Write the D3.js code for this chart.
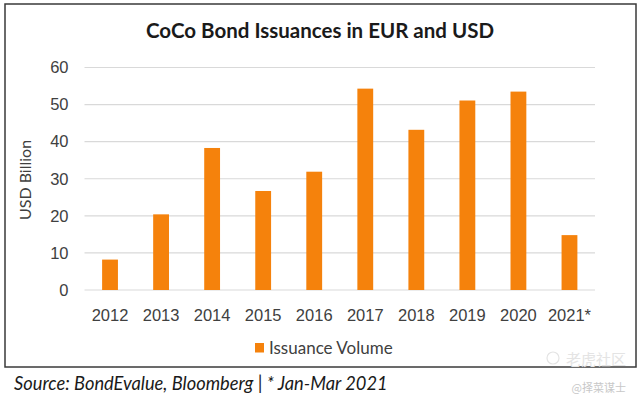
<!DOCTYPE html>
<html>
<head>
<meta charset="utf-8">
<script src="https://cdn.jsdelivr.net/npm/d3@7"></script>
<style>
  body { margin: 0; background: #fff; }
  svg { display: block; font-family: Lato, "Open Sans", sans-serif; }
  .axis text { fill: #404040; font-size: 16.5px; }
</style>
</head>
<body>
<script>
// Data
const YEARS  = ["2012", "2013", "2014", "2015", "2016", "2017", "2018", "2019", "2020", "2021*"];
const VOLUME = [8.2, 20.4, 38.3, 26.7, 31.9, 54.3, 43.2, 51.1, 53.5, 14.8];
const Y_TICKS = [0, 10, 20, 30, 40, 50, 60];

const W = 640, H = 399;
const ORANGE = '#F5820C';
const GRID = '#D9D9D9';
const TEXT = '#404040';

const svg = d3.select("body").append("svg")
  .attr("width", W)
  .attr("height", H);

// Chart frame
svg.append("rect")
  .attr("x", 5).attr("y", 4)
  .attr("width", 631).attr("height", 363)
  .attr("fill", "#fff")
  .attr("stroke", "#3a3a3a")
  .attr("stroke-width", 1.5);

// Scales
const x = d3.scaleBand()
  .domain(YEARS)
  .range([84.5, 595])
  .paddingInner(0.69)
  .paddingOuter(0.345);
const y = d3.scaleLinear()
  .domain([0, 60])
  .range([290, 67.5]);

// Gridlines
svg.append("g")
  .selectAll("line")
  .data(Y_TICKS)
  .join("line")
    .attr("x1", 84.5)
    .attr("x2", 595)
    .attr("y1", d => y(d))
    .attr("y2", d => y(d))
    .attr("stroke", GRID)
    .attr("stroke-width", 1.2);

// Bars
svg.append("g")
  .selectAll("rect")
  .data(VOLUME)
  .join("rect")
    .attr("x", (d, i) => x(YEARS[i]))
    .attr("y", d => y(d))
    .attr("width", x.bandwidth())
    .attr("height", d => y(0) - y(d))
    .attr("fill", ORANGE);

// Axes
svg.append("g")
  .attr("class", "axis")
  .attr("transform", "translate(84.5,0)")
  .call(d3.axisLeft(y).tickValues(Y_TICKS).tickSize(0).tickPadding(16))
  .call(g => g.select(".domain").remove());

svg.append("g")
  .attr("class", "axis")
  .attr("transform", "translate(0,290)")
  .call(d3.axisBottom(x).tickSize(0).tickPadding(19))
  .call(g => g.select(".domain").remove());

// Title
svg.append("text")
  .attr("x", 320)
  .attr("y", 38)
  .attr("text-anchor", "middle")
  .attr("font-size", 20.5)
  .attr("font-weight", "bold")
  .attr("fill", "#1a1a1a")
  .text("CoCo Bond Issuances in EUR and USD");

// Y axis title
svg.append("text")
  .attr("transform", "translate(31,180) rotate(-90)")
  .attr("text-anchor", "middle")
  .attr("font-size", 16)
  .attr("fill", TEXT)
  .text("USD Billion");

// Legend
const legend = svg.append("g").attr("transform", "translate(255,343)");
legend.append("rect")
  .attr("width", 9).attr("height", 9.5)
  .attr("fill", ORANGE);
legend.append("text")
  .attr("x", 14)
  .attr("y", 10.5)
  .attr("font-size", 17)
  .attr("fill", TEXT)
  .text("Issuance Volume");

// Source note
svg.append("text")
  .attr("x", 14)
  .attr("y", 390)
  .attr("font-size", 18.3)
  .attr("font-style", "italic")
  .attr("fill", "#1a1a1a")
  .text("Source: BondEvalue, Bloomberg | * Jan-Mar 2021");

// Watermark
svg.append("text")
  .attr("x", 626)
  .attr("y", 365)
  .attr("text-anchor", "end")
  .attr("font-family", "Noto Sans CJK SC")
  .attr("font-size", 15)
  .attr("fill", "#e4e4e4")
  .text("老虎社区");
svg.append("circle")
  .attr("cx", 553).attr("cy", 358).attr("r", 6)
  .attr("fill", "none")
  .attr("stroke", "#e4e4e4")
  .attr("stroke-width", 1.2);
svg.append("text")
  .attr("x", 626)
  .attr("y", 392)
  .attr("text-anchor", "end")
  .attr("font-family", "Noto Sans CJK SC")
  .attr("font-size", 11)
  .attr("fill", "#c8c8c8")
  .text("@择菜谋士");
</script>
</body>
</html>
